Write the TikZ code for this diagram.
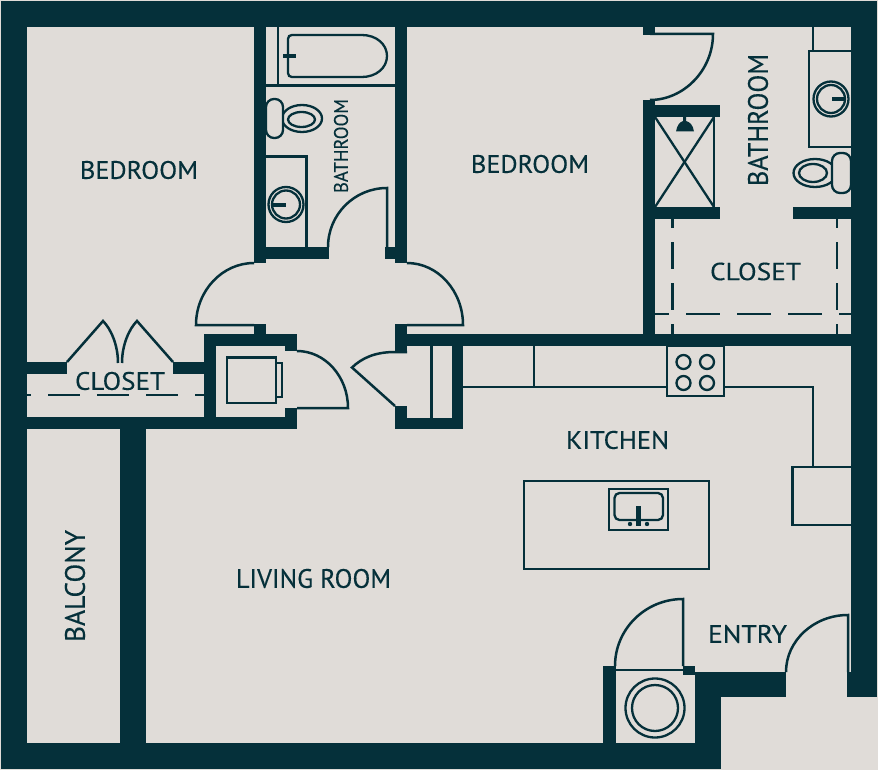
\documentclass[tikz,border=0pt]{standalone}
\usepackage{graphicx}
\usepackage{fontspec}
\setmainfont[FakeBold=0.25]{PT Sans}
\definecolor{wallc}{HTML}{05303A}
\definecolor{floorc}{HTML}{E0DCD8}
\tikzset{
  thin line/.style={draw=wallc,line width=2.3pt},
  door line/.style={draw=wallc,line width=2.5pt},
  dash line/.style={draw=wallc,line width=2.3pt},
  wall/.style={fill=wallc,draw=none},
  fix/.style={draw=wallc,fill=floorc,line width=2.3pt},
  roomlabel/.style={inner sep=0pt,outer sep=0pt,text=wallc}
}
\newcommand{\roomtext}[7]{% name,x,y,width,height,rotation,text
  \node[roomlabel,rotate=#6] (#1) at (#2,#3) {\resizebox{#4pt}{#5pt}{#7}};}
\begin{document}
\begin{tikzpicture}[x=1pt,y=-1pt]
\useasboundingbox (0,0) rectangle (878,770);
\fill[floorc] (0,0) rectangle (878,770);
% doors
\draw[door line] (254,263) .. controls (222,263) and (196,291) .. (196,325) -- (254,325);
\draw[door line] (407,263) .. controls (438,263) and (463,291) .. (463,325) -- (407,325);
\draw[door line] (297,351) .. controls (325,351) and (348,376.5) .. (348,408) -- (297,408);
\draw[door line] (328,247) .. controls (328,214.4) and (354.4,188) .. (387,188) -- (387,247);
\draw[door line] (650,34) -- (713,34) .. controls (713,70.5) and (683.5,100) .. (650,100);
\draw[door line] (615,666) .. controls (615,629) and (645.4,599) .. (683,599) -- (683,666);
\draw[door line] (786,672) .. controls (786,640.5) and (814,615) .. (848,615) -- (848,672);
\draw[door line] (407,352) -- (395,352) .. controls (375,352) and (362,358) .. (352,367.5) -- (395,406);
\draw[door line] (67,362) -- (103,321) .. controls (111,329) and (118,345) .. (118,363);
\draw[door line] (173,362) -- (137,321) .. controls (129,329) and (122,345) .. (122,363);
% upper left bathroom
\draw[thin line] (278,27) -- (278,85.5);
\draw[thin line] (266,85.5) -- (395,85.5);
\draw[thin line] (292,35) -- (362,35) .. controls (376,35) and (387,44) .. (387,56) .. controls (387,68) and (376,77) .. (362,77) -- (292,77) .. controls (289.5,77) and (288,75.5) .. (288,73) -- (288,39) .. controls (288,36.5) and (289.5,35) .. (292,35) -- cycle;
\draw[wallc,line width=3.5pt] (283,56) -- (296,56);
\draw[thin line] (266,156.5) -- (306.5,156.5) -- (306.5,247);
\draw[thin line] (286,204.5) circle[radius=17.5];
\draw[thin line] (286,204.5) circle[radius=14];
\draw[wallc,line width=3.5pt] (273,205) -- (286,205);
\draw[fix] (302,118.5) circle[x radius=20,y radius=13.5];
\draw[thin line] (301.5,119.5) circle[x radius=13.5,y radius=7.5];
\draw[fix,rounded corners=8pt] (266,99) rectangle (283,138);
% upper right bathroom
\draw[thin line] (813,27) -- (813,51);
\draw[thin line] (851,51) -- (809,51) -- (809,147) -- (851,147);
\draw[thin line] (831,99) circle[radius=17.5];
\draw[thin line] (831,99) circle[radius=14];
\draw[wallc,line width=3.5pt] (832,99) -- (844,99);
\draw[fix] (815,173) circle[x radius=21.5,y radius=14];
\draw[thin line] (813,173) circle[x radius=14,y radius=9];
\draw[fix,rounded corners=8pt] (832,153) rectangle (851,193);
% shower
\draw[thin line] (714,117) -- (714,207);
\draw[thin line] (655,117) -- (714,207);
\draw[thin line] (714,117) -- (655,207);
\fill[wallc] (676,131.5) .. controls (677,125) and (680,122) .. (683,121) -- (683,117) -- (686,117) -- (686,121) .. controls (690,122) and (693,125) .. (694,131.5) -- cycle;
% closets dashes
\draw[dash line,dash pattern=on 32pt off 17pt,dash phase=28pt] (27,395) -- (204,395);
\draw[dash line,dash pattern=on 27pt off 14pt,dash phase=18pt] (672.5,219) -- (672.5,334);
\draw[dash line,dash pattern=on 27pt off 14pt,dash phase=18pt] (837,219) -- (837,334);
\draw[dash line,dash pattern=on 34pt off 17pt,dash phase=20pt] (655,314) -- (851,314);
% utility appliance
\draw[thin line] (227,357.5) rectangle (276,403);
\draw[thin line] (276,363) rectangle (282,397);
\draw[thin line] (431.5,346) -- (431.5,418);
% kitchen
\draw[thin line] (463,387) -- (667,387);
\draw[thin line] (534,346) -- (534,387);
\draw[thin line] (667,346) rectangle (724,396);
\foreach \cx in {683.5,707} \foreach \cy in {362,383} \draw[thin line] (\cx,\cy) circle[radius=7];
\draw[thin line] (724,387) -- (813,387) -- (813,467);
\draw[thin line] (851,467) -- (792.5,467) -- (792.5,525) -- (851,525);
\draw[thin line] (524,481) rectangle (709,569);
\draw[thin line] (609,489) rectangle (668,530);
\draw[thin line,rounded corners=5pt] (614.5,493) rectangle (663,520);
\fill[wallc] (636,506) rectangle (641,526);
\fill[wallc] (630,524) circle[radius=2.2];
\fill[wallc] (647,524) circle[radius=2.2];
% laundry
\draw[thin line] (616,670) -- (683,670);
\draw[thin line] (655,708) circle[radius=29.5];
\draw[thin line] (655,708) circle[radius=23];
% walls
\fill[wall] (1,1) rectangle (877,27);
\fill[wall] (1,1) rectangle (27,769);
\fill[wall] (851,1) rectangle (877,697);
\fill[wall] (847,672) rectangle (877,697);
\fill[wall] (1,743) rectangle (721,769);
\fill[wall] (695,672) rectangle (721,769);
\fill[wall] (695,672) rectangle (786,697);
\fill[wall] (682.5,666) rectangle (695,675);
\fill[wall] (603,666) rectangle (616,743);
\fill[wall] (120,417) rectangle (146,743);
\fill[wall] (27,417) rectangle (297,429);
\fill[wall] (27,362) rectangle (67,374);
\fill[wall] (173,362) rectangle (204,374);
\fill[wall] (204,334) rectangle (216,429);
\fill[wall] (204,334) rectangle (297,346);
\fill[wall] (285,346) rectangle (297,351);
\fill[wall] (285,408) rectangle (297,429);
\fill[wall] (254,324) rectangle (266,334);
\fill[wall] (254,27) rectangle (266,263);
\fill[wall] (266,247) rectangle (329,259);
\fill[wall] (395,27) rectangle (407,263);
\fill[wall] (385,247) rectangle (395,259);
\fill[wall] (395,324) rectangle (407,352);
\fill[wall] (395,334) rectangle (851,346);
\fill[wall] (451.5,346) rectangle (463,429);
\fill[wall] (395,418) rectangle (463,429);
\fill[wall] (395,406) rectangle (407,429);
\fill[wall] (643,27) rectangle (655,35);
\fill[wall] (643,100) rectangle (655,334);
\fill[wall] (655,105) rectangle (720,117);
\fill[wall] (655,207) rectangle (720,219);
\fill[wall] (793,207) rectangle (851,219);
% labels
\roomtext{bedroomL}{139}{170}{118}{18}{0}{BEDROOM}
\roomtext{bedroomR}{530}{164}{118}{18}{0}{BEDROOM}
\roomtext{bathL}{341}{146}{94}{14}{90}{BATHROOM}
\roomtext{bathR}{758}{120}{132}{20}{90}{BATHROOM}
\roomtext{closetR}{755.5}{271.5}{91}{17.5}{0}{CLOSET}
\roomtext{closetL}{120}{381}{90}{18}{0}{CLOSET}
\roomtext{kitchen}{617.5}{440}{103}{18}{0}{KITCHEN}
\roomtext{living}{313.5}{578.5}{155}{19}{0}{LIVING ROOM}
\roomtext{entry}{747.5}{634}{79}{18}{0}{ENTRY}
\roomtext{balcony}{75}{586}{112}{20}{90}{BALCONY}
\end{tikzpicture}
\end{document}
